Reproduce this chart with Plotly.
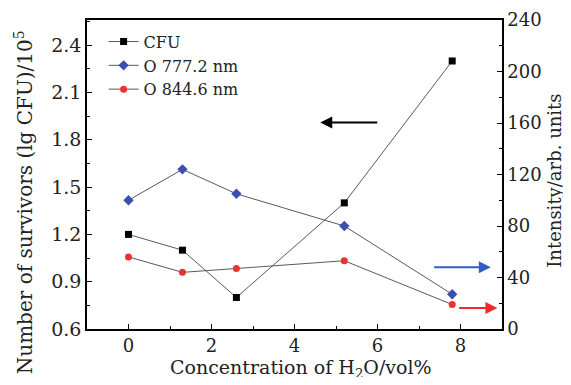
import plotly.graph_objects as go

conc = [0, 1.3, 2.6, 5.2, 7.8]
cfu = [1.20, 1.10, 0.80, 1.40, 2.30]
o777 = [100, 124, 105, 80, 27]
o844 = [56, 44, 47, 53, 19]

FONT = "DejaVu Serif, Liberation Serif, serif"
LINE = "#5a5a5a"
TXT = "#222"

fig = go.Figure()
fig.add_trace(go.Scatter(x=conc, y=cfu, name="CFU", mode="lines+markers",
                         line=dict(color=LINE, width=1),
                         marker=dict(symbol="square", size=7, color="black")))
fig.add_trace(go.Scatter(x=conc, y=o777, name="O 777.2 nm", mode="lines+markers",
                         yaxis="y2", line=dict(color=LINE, width=1),
                         marker=dict(symbol="diamond", size=8, color="#3d4fae")))
fig.add_trace(go.Scatter(x=conc, y=o844, name="O 844.6 nm", mode="lines+markers",
                         yaxis="y2", line=dict(color=LINE, width=1),
                         marker=dict(symbol="circle", size=7, color="#ee3030")))

axis_common = dict(showline=True, linecolor="black", linewidth=1.5, ticks="inside",
                   ticklen=5, tickcolor="black", showgrid=False, zeroline=False,
                   automargin=False)

# page body has an 8px margin on every side, so the figure is sized to fit the window
fig.update_layout(
    width=555, height=369,
    margin=dict(l=79, r=61, t=12, b=48),
    paper_bgcolor="white", plot_bgcolor="white",
    font=dict(family=FONT, size=18, color=TXT),
    showlegend=True,
    legend=dict(x=0.04, y=0.985, xanchor="left", yanchor="top",
                bgcolor="rgba(0,0,0,0)", font=dict(family=FONT, size=16, color=TXT),
                tracegroupgap=0, itemwidth=30),
    xaxis=dict(range=[-1, 9], dtick=2, mirror=True,
               minor=dict(ticks="inside", dtick=1, ticklen=3, tickcolor="black"),
               tickfont=dict(family=FONT, size=18, color=TXT),
               **axis_common),
    yaxis=dict(range=[0.6, 2.56], dtick=0.3, tick0=0.6, tickformat=".1f",
               minor=dict(ticks="inside", dtick=0.15, ticklen=3, tickcolor="black"),
               tickfont=dict(family=FONT, size=19, color=TXT),
               **axis_common),
    yaxis2=dict(range=[0, 240], dtick=40, overlaying="y", side="right",
                minor=dict(ticks="inside", dtick=20, ticklen=3, tickcolor="black"),
                tickfont=dict(family=FONT, size=18, color=TXT),
                **axis_common),
)

# Axis titles placed as annotations (real text)
fig.add_annotation(text="Concentration of H<sub>2</sub>O/vol%", xref="paper", yref="paper",
                   x=0.516, y=-0.127, xanchor="center", yanchor="middle", showarrow=False,
                   font=dict(family=FONT, size=19, color=TXT))
fig.add_annotation(text="Number of survivors (lg CFU)/10<sup>5</sup>", xref="paper", yref="paper",
                   x=-0.152, y=0.41, xanchor="center", yanchor="middle", showarrow=False,
                   textangle=-90, font=dict(family=FONT, size=20, color=TXT))
fig.add_annotation(text="Intensity/arb. units", xref="paper", yref="paper",
                   x=1.128, y=0.48, xanchor="center", yanchor="middle", showarrow=False,
                   textangle=-90, font=dict(family=FONT, size=18, color=TXT))

# Arrows pointing to the respective axes
fig.add_annotation(x=4.62, y=1.91, ax=6.03, ay=1.91, xref="x", yref="y",
                   axref="x", ayref="y", text="", showarrow=True,
                   arrowhead=2, arrowsize=1.2, arrowwidth=2, arrowcolor="black")
fig.add_annotation(x=8.73, y=48, ax=7.33, ay=48, xref="x", yref="y2",
                   axref="x", ayref="y2", text="", showarrow=True,
                   arrowhead=2, arrowsize=1.2, arrowwidth=2, arrowcolor="#2f5fc0")
fig.add_annotation(x=8.89, y=16.4, ax=7.93, ay=16.4, xref="x", yref="y2",
                   axref="x", ayref="y2", text="", showarrow=True,
                   arrowhead=2, arrowsize=1.2, arrowwidth=2, arrowcolor="#ee2a2a")

fig.write_html("out.html")
